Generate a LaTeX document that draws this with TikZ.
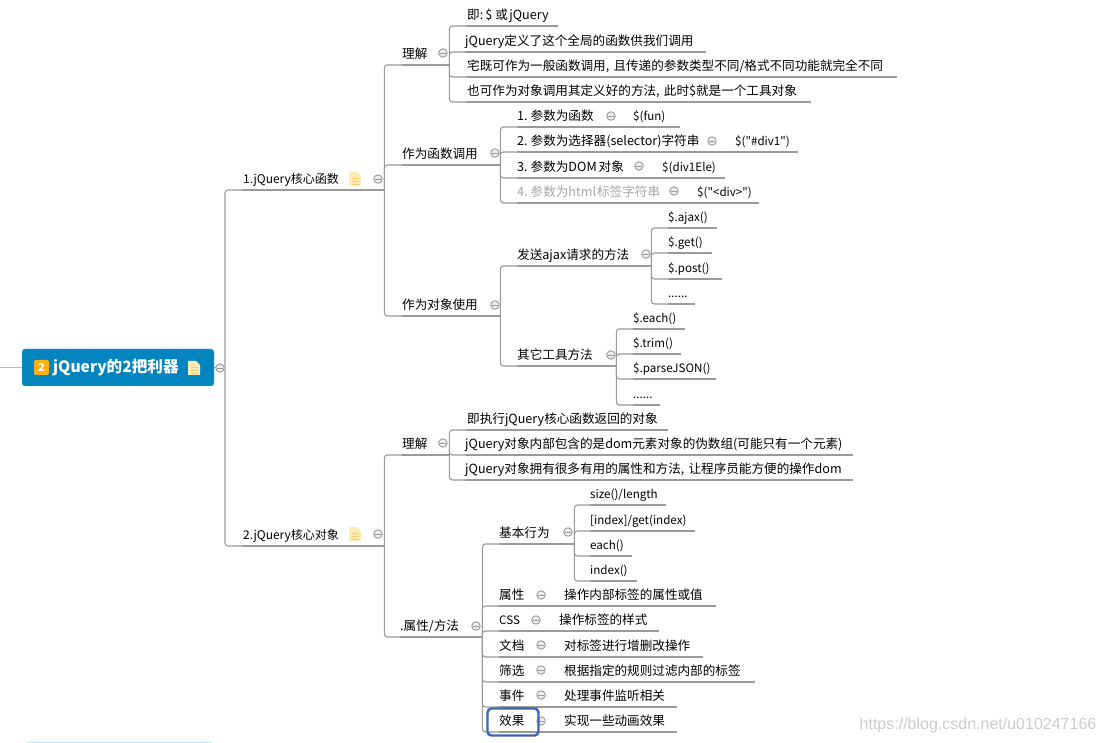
\documentclass[tikz,border=0pt]{standalone}
\usepackage{fontspec}
\usepackage{xcolor}
\setmainfont{Noto Sans CJK SC}
\newfontfamily\codefont{Noto Sans CJK SC}
\newfontfamily\markfont{Liberation Sans}
\usetikzlibrary{positioning}
\definecolor{rootblue}{HTML}{0284BF}
\definecolor{rootedge}{HTML}{6BB5DC}
\definecolor{wiregray}{HTML}{9A9A9A}
\definecolor{togglefill}{HTML}{ECECF2}
\definecolor{notefill}{HTML}{FDEDB5}
\definecolor{noteline}{HTML}{F3CD72}
\definecolor{badgeorange}{HTML}{FFB00F}
\definecolor{markblue}{HTML}{3F64B0}
\definecolor{cutblue}{HTML}{BCE3F0}

\begin{document}
\begin{tikzpicture}[
    x=1pt, y=-1pt,
    leaf/.style={anchor=south west, text width=#1, inner sep=0pt, text height=10pt, text depth=6pt, font=\fontsize{12.6}{14}\selectfont},
    code/.style={font=\codefont\fontsize{11.6}{14}\selectfont},
    wire/.style={draw=wiregray, line width=1.1pt, rounded corners=3pt},
    toggle/.style={circle, draw=wiregray, line width=0.9pt, fill=togglefill, inner sep=0pt, minimum size=8.5pt, path picture={\draw [wiregray, line width=0.9pt] ([xshift=1.5pt]path picture bounding box.west) -- ([xshift=-1.5pt]path picture bounding box.east);}},
    note/.pic={
        \fill [notefill] (-6,-7) -- (2,-7) -- (6,-3) -- (6,7) -- (-6,7) -- cycle;
        \draw [noteline] (-3.5,-1) -- (3.5,-1) (-3.5,2) -- (3.5,2) (-3.5,5) -- (3.5,5);
    }
]
\useasboundingbox (0,0) rectangle (1104,743);

% root
\node [rectangle, rounded corners=3pt, fill=rootblue, draw=rootedge, minimum width=192pt, minimum height=37pt, inner sep=0pt] (root) at (118,367.5) {};
\node [rectangle, rounded corners=2pt, fill=badgeorange, text=white, inner sep=0pt, minimum size=15pt, font=\fontsize{11}{12}\selectfont\bfseries] (badge) at (41.5,367.5) {2};
\node [anchor=west, inner sep=0pt, text=white, font=\fontsize{15.6}{18}\selectfont\bfseries] (roottext) at (53,368) {jQuery的2把利器};
\pic at (194,368) {note};
\coordinate (offleft) at (0,367.5);
\coordinate (hub) at (225,367.5);

% first branch
\node [leaf=141pt, font=\fontsize{12}{14}\selectfont] (core) at (243,190) {1.jQuery核心函数};
\node [leaf=47pt] (coreA) at (402,65) {理解};
\node [leaf=91pt] (coreA1) at (467,26) {即:\kern2pt\$\kern3pt或\kern1.5pt jQuery};
\node [leaf=241pt] (coreA2) at (465,52) {jQuery定义了这个全局的函数供我们调用};
\node [leaf=430pt] (coreA3) at (467,77) {宅既可作为一般函数调用, 且传递的参数类型不同/格式不同功能就完全不同};
\node [leaf=344pt] (coreA4) at (467,102) {也可作为对象调用其定义好的方法, 此时\$就是一个工具对象};

\node [leaf=98pt] (coreB) at (402,165) {作为函数调用};
\node [leaf=116pt] (coreB1) at (517,127) {1.\kern3pt 参数为函数};
\node [leaf=47pt, code] (coreB1x) at (633,127) {\$(fun)};
\node [leaf=218pt] (coreB2) at (517,152) {2.\kern3pt 参数为选择器(selector)字符串};
\node [leaf=63pt, code] (coreB2x) at (735,152) {\$("\#div1")};
\node [leaf=145pt] (coreB3) at (517,178) {3.\kern3pt 参数为DOM\kern2pt 对象};
\node [leaf=63pt, code] (coreB3x) at (662,178) {\$(div1Ele)};
\node [leaf=180pt, text=gray!70] (coreB4) at (517,203) {4.\kern3pt 参数为html\kern1pt 标签字符串};
\node [leaf=62pt, code] (coreB4x) at (697,203) {\$("<div>")};

\node [leaf=98pt] (coreC) at (402,316) {作为对象使用};
\node [leaf=134pt] (coreC1) at (517,266) {发送ajax请求的方法};
\node [leaf=49pt, code] (ajax) at (668,228) {\$.ajax()};
\node [leaf=44pt, code] (get) at (668,253) {\$.get()};
\node [leaf=54pt, code] (post) at (668,279) {\$.post()};
\node [leaf=27pt, code] (ajaxmore) at (668,304) {......};
\node [leaf=99pt] (coreC2) at (517,366) {其它工具方法};
\node [leaf=52pt, code] (each) at (633,329) {\$.each()};
\node [leaf=48pt, code] (trim) at (633,354) {\$.trim()};
\node [leaf=83pt, code] (parse) at (633,379) {\$.parseJSON()};
\node [leaf=27pt, code] (toolmore) at (633,405) {......};

% second branch
\node [leaf=141pt, font=\fontsize{12}{14}\selectfont] (obj) at (243,546) {2.jQuery核心对象};
\node [leaf=47pt] (objA) at (402,455) {理解};
\node [leaf=201pt] (objA1) at (467,430) {即执行jQuery核心函数返回的对象};
\node [leaf=388pt] (objA2) at (465,455) {jQuery对象内部包含的是dom元素对象的伪数组(可能只有一个元素)};
\node [leaf=388pt] (objA3) at (465,480) {jQuery对象拥有很多有用的属性和方法, 让程序员能方便的操作dom};

\node [leaf=82pt] (objB) at (400,637) {.属性/方法};
\node [leaf=75pt] (objB1) at (499,544) {基本行为};
\node [leaf=76pt, code] (size) at (590,505) {size()/length};
\node [leaf=105pt, code] (index) at (590,531) {[index]/get(index)};
\node [leaf=42pt, code] (eachfn) at (590,556) {each()};
\node [leaf=47pt, code] (indexfn) at (590,581) {index()};
\node [leaf=65pt] (attr) at (499,606) {属性};
\node [leaf=152pt] (attrx) at (564,606) {操作内部标签的属性或值};
\node [leaf=60pt, code] (css) at (499,631) {CSS};
\node [leaf=100pt] (cssx) at (559,631) {操作标签的样式};
\node [leaf=65pt] (docs) at (499,657) {文档};
\node [leaf=139pt] (docsx) at (564,657) {对标签进行增删改操作};
\node [leaf=65pt] (filter) at (499,682) {筛选};
\node [leaf=191pt] (filterx) at (564,682) {根据指定的规则过滤内部的标签};
\node [leaf=65pt] (event) at (499,707) {事件};
\node [leaf=113pt] (eventx) at (564,707) {处理事件监听相关};
\node [leaf=65pt] (effect) at (499,732) {效果};
\node [leaf=113pt] (effectx) at (564,732) {实现一些动画效果};

% underlines
\foreach \n in {core,coreA,coreA1,coreA2,coreA3,coreA4,coreB,coreB1,coreB1x,coreB2,coreB2x,coreB3,coreB3x,coreB4,coreB4x,coreC,coreC1,ajax,get,post,ajaxmore,coreC2,each,trim,parse,toolmore,obj,objA,objA1,objA2,objA3,objB,objB1,size,index,eachfn,indexfn,attr,attrx,css,cssx,docs,docsx,filter,filterx,event,eventx,effect,effectx}
    \draw [wire] (\n.south west) -- (\n.south east);

% connectors
\draw [wire, line width=1.6pt, draw=gray!55] (offleft) -- (root.west);
\draw [wire] (root.east) -- (hub);
\foreach \kid in {core,obj} \draw [wire] (hub) |- (\kid.south);
\foreach \kid in {coreA,coreB,coreC} \draw [wire] (core.south east) |- (\kid.south);
\foreach \kid in {coreA1,coreA2,coreA3,coreA4} \draw [wire] (coreA.south east) |- (\kid.south);
\foreach \kid in {coreB1,coreB2,coreB3,coreB4} \draw [wire] (coreB.south east) |- (\kid.south);
\foreach \kid in {coreC1,coreC2} \draw [wire] (coreC.south east) |- (\kid.south);
\foreach \kid in {ajax,get,post,ajaxmore} \draw [wire] (coreC1.south east) |- (\kid.south);
\foreach \kid in {each,trim,parse,toolmore} \draw [wire] (coreC2.south east) |- (\kid.south);
\foreach \kid in {objA,objB} \draw [wire] (obj.south east) |- (\kid.south);
\foreach \kid in {objA1,objA2,objA3} \draw [wire] (objA.south east) |- (\kid.south);
\foreach \kid in {objB1,attr,css,docs,filter,event,effect} \draw [wire] (objB.south east) |- (\kid.south);
\foreach \kid in {size,index,eachfn,indexfn} \draw [wire] (objB1.south east) |- (\kid.south);

% toggles
\foreach \x/\y [count=\i] in {220/368,378/179,443/53,495/153,611/116,712/141,639/166,674/191,495/305,646/254,611/355,378/534,443/443,476/626,568/532,541/595,536/620,541/645,541/670,541/695,541/721}
    \node [toggle] (tog\i) at (\x,\y) {};

\pic at (355,179) {note};
\pic at (355,534) {note};

\node [draw=markblue, line width=2.4pt, rounded corners=4pt, minimum width=51pt, minimum height=27pt, inner sep=0pt] (mark) at (513,722) {};
\node [inner sep=0pt, text=gray!40, font=\markfont\fontsize{16}{18}\selectfont] (watermark) at (978,725) {https://blog.csdn.net/u010247166};

% cut-off box at the bottom
\coordinate (cutL) at (27,742.5);
\coordinate (cutR) at (212,742.5);
\draw [cutblue, line width=1.2pt] (cutL) -- (cutR);
\end{tikzpicture}
\end{document}
